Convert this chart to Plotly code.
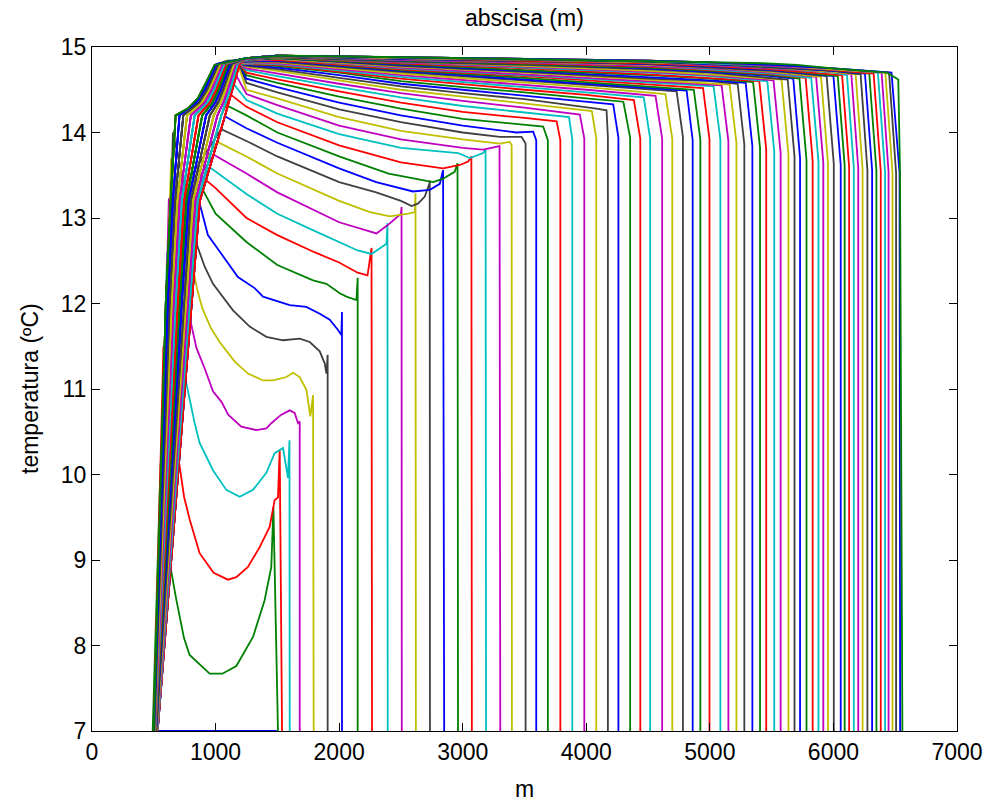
import plotly.graph_objects as go

# ---- temperature snapshots along the channel (x in m, T in degC) ----
# Rising limb near the inlet: every late snapshot climbs through this strip.
# Left envelope of the strip
env_x = [500, 597, 636, 677, 776, 857, 939, 993]
env_y = [7, 12, 13.2, 14.2, 14.28, 14.4, 14.63, 14.79]
# Remaining paths through the strip, all at the same temperature levels
lane_y = [7, 12, 13.2, 14.2, 14.35, 14.5, 14.8]
lane01_x = [502, 613, 654, 708, 845, 912, 1009]
lane02_x = [505, 629, 672, 739, 867, 931, 1024]
lane03_x = [507, 645, 691, 769, 889, 949, 1040]
lane04_x = [510, 661, 709, 800, 910, 968, 1055]
lane05_x = [512, 677, 727, 831, 932, 987, 1071]
lane06_x = [514, 694, 745, 862, 954, 1006, 1086]
lane07_x = [517, 709, 764, 892, 976, 1024, 1102]
lane08_x = [519, 726, 782, 923, 998, 1043, 1117]
lane09_x = [521, 742, 800, 954, 1020, 1062, 1133]
lane10_x = [524, 758, 818, 985, 1041, 1081, 1148]
lane11_x = [526, 774, 837, 1015, 1063, 1099, 1164]
lane12_x = [529, 790, 855, 1046, 1085, 1118, 1179]
lane13_x = [531, 806, 873, 1077, 1107, 1137, 1195]

# Early snapshots
s01_x = [531, 1495]
s01_y = [7, 7]
s02_x = [491, 555, 630, 683, 744, 790, 952, 1055, 1168, 1303, 1397, 1451, 1468, 1505]
s02_y = [7, 10.13, 8.96, 8.53, 8.09, 7.89, 7.67, 7.67, 7.76, 8.10, 8.53, 8.92, 9.62, 7]
s03_x = [500, 578, 710, 745, 791, 871, 984, 1100, 1168, 1262, 1357, 1438, 1478, 1505, 1519, 1538]
s03_y = [7, 11.50, 10.09, 9.74, 9.47, 9.08, 8.85, 8.77, 8.80, 8.92, 9.15, 9.39, 9.70, 9.73, 10.29, 7]
s04_x = [505, 608, 763, 831, 871, 979, 1087, 1195, 1303, 1411, 1478, 1519, 1546, 1586, 1598, 1600]
s04_y = [7, 12.60, 11.07, 10.60, 10.37, 10.05, 9.82, 9.74, 9.82, 10.02, 10.25, 10.29, 10.31, 9.96, 10.40, 7]
s05_x = [510, 622, 804, 845, 912, 980, 1048, 1102, 1208, 1330, 1411, 1451, 1532, 1600, 1640, 1667, 1681, 1681]
s05_y = [7, 13.23, 11.75, 11.48, 11.24, 10.97, 10.85, 10.70, 10.56, 10.52, 10.54, 10.60, 10.70, 10.75, 10.72, 10.60, 10.62, 7]
s06_x = [512, 640, 852, 894, 963, 1033, 1155, 1262, 1384, 1465, 1573, 1627, 1681, 1735, 1767, 1789, 1794]
s06_y = [7, 13.70, 12.16, 11.94, 11.71, 11.55, 11.32, 11.18, 11.10, 11.10, 11.14, 11.19, 11.14, 10.99, 10.68, 10.93, 7]
s07_x = [515, 655, 845, 912, 979, 1141, 1276, 1411, 1546, 1681, 1762, 1843, 1883, 1897, 1907, 1907]
s07_y = [7, 14.00, 12.70, 12.43, 12.23, 11.92, 11.73, 11.61, 11.57, 11.59, 11.55, 11.44, 11.30, 11.18, 11.40, 7]
s08_x = [531, 871, 938, 1060, 1181, 1316, 1384, 1600, 1735, 1843, 1924, 1991, 2018, 2023, 2023]
s08_y = [7, 13.17, 12.80, 12.55, 12.31, 12.18, 12.08, 11.98, 11.96, 11.88, 11.81, 11.69, 11.63, 11.90, 7]

# Later snapshots: part of a strip path, then the profile towards the front
s09_x = lane12_x[:3] + [900, 1000, 1250, 1500, 1789, 1897, 2005, 2059, 2140, 2150, 2150]
s09_y = lane_y[:3] + [13.32, 13.05, 12.72, 12.45, 12.27, 12.23, 12.12, 12.08, 12.04, 12.30, 7]
s10_x = lane10_x[:3] + [925, 1000, 1250, 1500, 1800, 2000, 2150, 2230, 2262, 2266]
s10_y = lane_y[:3] + [13.44, 13.35, 13.00, 12.80, 12.60, 12.48, 12.36, 12.33, 12.65, 7]
s11_x = lane08_x[:3] + [955, 1250, 1500, 1800, 2000, 2150, 2262, 2383, 2391, 2393]
s11_y = lane_y[:3] + [13.59, 13.28, 13.05, 12.85, 12.72, 12.62, 12.58, 12.70, 12.94, 7]
s12_x = lane06_x[:3] + [985, 1250, 1500, 2000, 2302, 2396, 2500, 2505, 2507]
s12_y = lane_y[:3] + [13.74, 13.52, 13.30, 12.95, 12.82, 12.92, 13.05, 13.13, 7]
s13_x = lane04_x[:3] + [1015, 1250, 1500, 2000, 2250, 2410, 2560, 2612, 2618, 2621]
s13_y = lane_y[:3] + [13.89, 13.72, 13.52, 13.20, 13.07, 13.02, 13.05, 13.07, 13.29, 7]
s14_x = lane02_x[:3] + [1045, 1250, 1500, 2000, 2300, 2500, 2587, 2640, 2693, 2730, 2733, 2735]
s14_y = lane_y[:3] + [14.04, 13.90, 13.72, 13.42, 13.30, 13.20, 13.14, 13.17, 13.25, 13.40, 13.44, 7]
s15_x = lane13_x[:3] + [1075, 1250, 1500, 2000, 2300, 2598, 2734, 2815, 2841, 2850]
s15_y = lane_y[:3] + [14.19, 14.05, 13.88, 13.58, 13.42, 13.31, 13.33, 13.40, 13.56, 7]
s16_x = lane13_x[:4] + [1100, 1250, 1500, 2000, 2400, 2760, 2841, 2935, 2958, 2962]
s16_y = lane_y[:4] + [14.31, 14.20, 14.00, 13.72, 13.52, 13.42, 13.46, 13.54, 13.64, 7]
s17_x = lane12_x[:4] + [1125, 1250, 1500, 2000, 2500, 2841, 2977, 3044, 3070, 3074]
s17_y = lane_y[:4] + [14.44, 14.30, 14.12, 13.85, 13.65, 13.58, 13.62, 13.66, 13.72, 7]
s18_x = lane11_x[:5] + [1150, 1250, 1500, 2000, 2500, 2963, 3057, 3165, 3185, 3189]
s18_y = lane_y[:5] + [14.56, 14.38, 14.22, 13.98, 13.82, 13.76, 13.70, 13.76, 13.80, 7]
s19_x = lane10_x[:6] + [1170, 1250, 1500, 2000, 2500, 3000, 3165, 3298, 3304]
s19_y = lane_y[:6] + [14.66, 14.45, 14.32, 14.08, 13.92, 13.82, 13.80, 13.84, 7]
s20_x = lane09_x[:6] + [1190, 1250, 1500, 2000, 2500, 3000, 3300, 3381, 3396, 3398]
s20_y = lane_y[:6] + [14.76, 14.50, 14.40, 14.18, 14.02, 13.92, 13.87, 13.89, 13.85, 7]
s21_x = lane08_x + [1195, 1250, 1500, 2000, 2500, 3000, 3300, 3476, 3509, 3509]
s21_y = lane_y + [14.79, 14.58, 14.47, 14.27, 14.12, 14.00, 13.95, 13.95, 13.87, 7]
s22_x = lane13_x + [1250, 1500, 2000, 2500, 3000, 3435, 3570, 3595, 3595]
s22_y = lane_y + [14.63, 14.53, 14.35, 14.20, 14.08, 14.00, 14.01, 13.91, 7]
s23_x = lane07_x + [1190, 1250, 1500, 2000, 2500, 3000, 3400, 3651, 3689, 3689]
s23_y = lane_y + [14.81, 14.67, 14.58, 14.42, 14.28, 14.16, 14.10, 14.07, 13.91, 7]
s24_x = env_x + [1185, 1250, 1500, 2000, 2500, 3000, 3500, 3760, 3790, 3790]
s24_y = env_y + [14.81, 14.70, 14.62, 14.48, 14.35, 14.24, 14.17, 14.13, 13.91, 7]
s25_x = lane06_x + [1180, 1250, 1500, 2000, 2500, 3000, 3500, 3860, 3887, 3887]
s25_y = lane_y + [14.82, 14.73, 14.66, 14.53, 14.41, 14.31, 14.23, 14.18, 13.92, 7]
s26_x = lane05_x + [1170, 1250, 1500, 2000, 2500, 3000, 3500, 3948, 3984, 3984]
s26_y = lane_y + [14.82, 14.75, 14.69, 14.57, 14.46, 14.37, 14.29, 14.21, 13.93, 7]
s27_x = lane04_x + [1160, 1250, 1500, 2000, 2500, 3000, 3500, 4045, 4081, 4081]
s27_y = lane_y + [14.82, 14.77, 14.72, 14.61, 14.50, 14.42, 14.34, 14.25, 13.93, 7]
s28_x = lane03_x + [1150, 1250, 1500, 2000, 2500, 3000, 3500, 4083, 4164, 4175, 4175]
s28_y = lane_y + [14.82, 14.78, 14.74, 14.64, 14.54, 14.46, 14.39, 14.28, 14.26, 13.94, 7]
s29_x = lane02_x + [1140, 1250, 1500, 2000, 2500, 3000, 3500, 4000, 4218, 4260, 4260]
s29_y = lane_y + [14.82, 14.79, 14.76, 14.67, 14.57, 14.50, 14.43, 14.36, 14.33, 13.94, 7]
s30_x = lane01_x + [1130, 1250, 1500, 2000, 2500, 3000, 3500, 4000, 4300, 4355, 4355]
s30_y = lane_y + [14.82, 14.80, 14.78, 14.70, 14.60, 14.53, 14.47, 14.40, 14.36, 13.94, 7]
s31_x = env_x + [1100, 1250, 1500, 2500, 3500, 4000, 4385, 4437, 4437]
s31_y = env_y + [14.84, 14.80, 14.79, 14.63, 14.50, 14.44, 14.38, 13.93, 7]
s32_x = lane12_x + [1250, 1500, 2500, 3500, 4000, 4465, 4517, 4517]
s32_y = lane_y + [14.81, 14.80, 14.65, 14.53, 14.47, 14.41, 13.93, 7]
s33_x = lane11_x + [1250, 1500, 2500, 3500, 4000, 4560, 4614, 4614]
s33_y = lane_y + [14.82, 14.81, 14.67, 14.56, 14.50, 14.43, 13.93, 7]
s34_x = lane10_x + [1250, 1500, 2500, 3500, 4000, 4640, 4696, 4696]
s34_y = lane_y + [14.82, 14.82, 14.69, 14.58, 14.53, 14.45, 13.93, 7]
s35_x = lane09_x + [1250, 1500, 2500, 3500, 4000, 4500, 4731, 4782, 4782]
s35_y = lane_y + [14.83, 14.83, 14.71, 14.61, 14.56, 14.51, 14.48, 13.95, 7]
s36_x = lane08_x + [1250, 1500, 2500, 3500, 4000, 4500, 4812, 4861, 4861]
s36_y = lane_y + [14.83, 14.84, 14.72, 14.62, 14.57, 14.52, 14.49, 13.91, 7]
s37_x = lane07_x + [1250, 1500, 2500, 3500, 4500, 4870, 4923, 4923]
s37_y = lane_y + [14.84, 14.85, 14.73, 14.64, 14.54, 14.50, 13.92, 7]
s38_x = lane06_x + [1250, 1500, 2500, 3500, 4500, 4945, 4997, 4997]
s38_y = lane_y + [14.84, 14.85, 14.74, 14.66, 14.56, 14.52, 13.92, 7]
s39_x = lane05_x + [1250, 1500, 2500, 3500, 4500, 5030, 5085, 5085]
s39_y = lane_y + [14.84, 14.86, 14.75, 14.67, 14.59, 14.54, 13.92, 7]
s40_x = lane04_x + [1250, 1500, 2500, 3500, 4500, 5095, 5150, 5150]
s40_y = lane_y + [14.84, 14.86, 14.76, 14.68, 14.60, 14.55, 13.90, 7]
s41_x = lane03_x + [1250, 1500, 2500, 3500, 4500, 5000, 5160, 5215, 5215]
s41_y = lane_y + [14.85, 14.86, 14.77, 14.70, 14.62, 14.58, 14.56, 13.88, 7]
s42_x = lane02_x + [1250, 1500, 2500, 3500, 4500, 5000, 5225, 5279, 5279]
s42_y = lane_y + [14.85, 14.87, 14.78, 14.71, 14.63, 14.60, 14.57, 13.86, 7]
s43_x = lane01_x + [1250, 1500, 2500, 3500, 4500, 5000, 5290, 5344, 5344]
s43_y = lane_y + [14.85, 14.87, 14.79, 14.72, 14.65, 14.61, 14.58, 13.84, 7]
s44_x = env_x + [1100, 1250, 1500, 2500, 3500, 4500, 5000, 5350, 5406, 5406]
s44_y = env_y + [14.84, 14.85, 14.87, 14.80, 14.73, 14.67, 14.63, 14.59, 13.82, 7]
s45_x = lane13_x + [1250, 1500, 2500, 3500, 4500, 5000, 5400, 5456, 5456]
s45_y = lane_y + [14.85, 14.88, 14.81, 14.75, 14.68, 14.64, 14.60, 13.80, 7]
s46_x = lane12_x + [1250, 1500, 2500, 3500, 4500, 5000, 5465, 5521, 5521]
s46_y = lane_y + [14.85, 14.88, 14.82, 14.76, 14.70, 14.66, 14.60, 13.78, 7]
s47_x = lane11_x + [1250, 1500, 2500, 3500, 4500, 5000, 5515, 5573, 5573]
s47_y = lane_y + [14.86, 14.88, 14.82, 14.77, 14.71, 14.67, 14.61, 13.76, 7]
s48_x = lane10_x + [1250, 1500, 2500, 3500, 4500, 5000, 5580, 5636, 5636]
s48_y = lane_y + [14.86, 14.88, 14.83, 14.78, 14.72, 14.68, 14.62, 13.74, 7]
s49_x = lane09_x + [1250, 1500, 2500, 3500, 4500, 5000, 5630, 5685, 5685]
s49_y = lane_y + [14.86, 14.88, 14.83, 14.79, 14.74, 14.70, 14.62, 13.72, 7]
s50_x = lane08_x + [1250, 1500, 2500, 3500, 4500, 5000, 5500, 5675, 5730, 5730]
s50_y = lane_y + [14.86, 14.89, 14.84, 14.80, 14.75, 14.71, 14.66, 14.63, 13.70, 7]
s51_x = lane07_x + [1250, 1500, 2500, 3500, 4500, 5000, 5500, 5725, 5782, 5782]
s51_y = lane_y + [14.86, 14.89, 14.84, 14.80, 14.76, 14.72, 14.67, 14.63, 13.68, 7]
s52_x = lane06_x + [1250, 1500, 2500, 3500, 4500, 5000, 5500, 5775, 5832, 5832]
s52_y = lane_y + [14.86, 14.89, 14.85, 14.81, 14.77, 14.73, 14.68, 14.64, 13.67, 7]
s53_x = lane05_x + [1250, 1500, 2500, 3500, 4500, 5000, 5500, 5820, 5879, 5879]
s53_y = lane_y + [14.86, 14.89, 14.85, 14.82, 14.78, 14.74, 14.69, 14.64, 13.66, 7]
s54_x = lane04_x + [1250, 1500, 2500, 3500, 4500, 5000, 5500, 5860, 5918, 5918]
s54_y = lane_y + [14.86, 14.89, 14.85, 14.82, 14.78, 14.75, 14.70, 14.65, 13.65, 7]
s55_x = lane03_x + [1250, 1500, 2500, 3500, 4500, 5000, 5500, 5900, 5956, 5956]
s55_y = lane_y + [14.87, 14.89, 14.86, 14.83, 14.79, 14.76, 14.71, 14.65, 13.64, 7]
s56_x = lane02_x + [1250, 1500, 2500, 3500, 4500, 5000, 5500, 5945, 6003, 6003]
s56_y = lane_y + [14.87, 14.89, 14.86, 14.83, 14.80, 14.76, 14.72, 14.66, 13.63, 7]
s57_x = lane01_x + [1250, 1500, 2500, 3500, 4500, 5000, 5500, 6000, 6059, 6059]
s57_y = lane_y + [14.87, 14.90, 14.86, 14.84, 14.80, 14.77, 14.73, 14.66, 13.62, 7]
s58_x = env_x + [1250, 1500, 2500, 3500, 4500, 5000, 5500, 6035, 6091, 6091]
s58_y = env_y + [14.87, 14.90, 14.87, 14.84, 14.81, 14.78, 14.74, 14.66, 13.61, 7]
s59_x = lane13_x + [1250, 1500, 2500, 3500, 4500, 5000, 5500, 6070, 6127, 6127]
s59_y = lane_y + [14.87, 14.90, 14.87, 14.84, 14.81, 14.78, 14.74, 14.67, 13.60, 7]
s60_x = lane12_x + [1250, 1500, 2500, 3500, 4500, 5000, 5500, 6000, 6110, 6165, 6165]
s60_y = lane_y + [14.87, 14.90, 14.87, 14.85, 14.82, 14.79, 14.75, 14.70, 14.67, 13.59, 7]
s61_x = lane11_x + [1250, 1500, 2500, 3500, 4500, 5000, 5500, 6000, 6145, 6201, 6201]
s61_y = lane_y + [14.87, 14.90, 14.87, 14.85, 14.82, 14.79, 14.75, 14.71, 14.68, 13.58, 7]
s62_x = lane10_x + [1250, 1500, 2500, 3500, 4500, 5000, 5500, 6000, 6180, 6236, 6236]
s62_y = lane_y + [14.87, 14.90, 14.87, 14.85, 14.82, 14.80, 14.76, 14.71, 14.68, 13.57, 7]
s63_x = lane09_x + [1250, 1500, 2500, 3500, 4500, 5000, 5500, 6000, 6220, 6275, 6275]
s63_y = lane_y + [14.87, 14.90, 14.88, 14.85, 14.83, 14.80, 14.76, 14.72, 14.68, 13.56, 7]
s64_x = lane08_x + [1250, 1500, 2500, 3500, 4500, 5000, 5500, 6000, 6255, 6313, 6313]
s64_y = lane_y + [14.87, 14.90, 14.88, 14.86, 14.83, 14.80, 14.77, 14.72, 14.69, 13.56, 7]
s65_x = lane07_x + [1250, 1500, 2500, 3500, 4500, 5000, 5500, 6000, 6290, 6348, 6348]
s65_y = lane_y + [14.87, 14.90, 14.88, 14.86, 14.83, 14.81, 14.77, 14.73, 14.69, 13.55, 7]
s66_x = lane06_x + [1250, 1500, 2500, 3500, 4500, 5000, 5500, 6000, 6325, 6383, 6383]
s66_y = lane_y + [14.87, 14.90, 14.88, 14.86, 14.84, 14.81, 14.78, 14.73, 14.69, 13.55, 7]
s67_x = lane05_x + [1250, 1500, 2500, 3500, 4500, 5000, 5500, 6000, 6360, 6418, 6418]
s67_y = lane_y + [14.87, 14.90, 14.88, 14.86, 14.84, 14.81, 14.78, 14.74, 14.70, 13.54, 7]
s68_x = lane04_x + [1250, 1500, 2500, 3500, 4500, 5000, 5500, 6000, 6390, 6446, 6446]
s68_y = lane_y + [14.87, 14.90, 14.88, 14.86, 14.84, 14.82, 14.78, 14.74, 14.70, 13.54, 7]
s69_x = lane03_x + [1250, 1500, 2500, 3500, 4500, 5000, 5500, 6000, 6420, 6478, 6478]
s69_y = lane_y + [14.87, 14.90, 14.88, 14.86, 14.84, 14.82, 14.79, 14.74, 14.70, 13.53, 7]
s70_x = lane02_x + [1250, 1500, 2500, 3500, 4500, 5000, 5500, 6000, 6450, 6507, 6507]
s70_y = lane_y + [14.87, 14.90, 14.88, 14.86, 14.84, 14.82, 14.79, 14.75, 14.70, 13.53, 7]
s71_x = lane01_x + [1250, 1500, 2500, 3500, 4500, 5000, 5500, 6000, 6470, 6535, 6540]
s71_y = lane_y + [14.87, 14.90, 14.88, 14.86, 14.84, 14.82, 14.79, 14.75, 14.70, 13.53, 7]
s72_x = env_x + [1250, 1543, 2500, 3500, 4759, 5431, 5705, 5995, 6192, 6434, 6525, 6539, 6558]
s72_y = env_y + [14.87, 14.90, 14.88, 14.86, 14.83, 14.81, 14.79, 14.75, 14.73, 14.70, 14.62, 13.53, 7]

snapshots = [
    (s01_x, s01_y), (s02_x, s02_y), (s03_x, s03_y), (s04_x, s04_y), (s05_x, s05_y),
    (s06_x, s06_y), (s07_x, s07_y), (s08_x, s08_y), (s09_x, s09_y), (s10_x, s10_y),
    (s11_x, s11_y), (s12_x, s12_y), (s13_x, s13_y), (s14_x, s14_y), (s15_x, s15_y),
    (s16_x, s16_y), (s17_x, s17_y), (s18_x, s18_y), (s19_x, s19_y), (s20_x, s20_y),
    (s21_x, s21_y), (s22_x, s22_y), (s23_x, s23_y), (s24_x, s24_y), (s25_x, s25_y),
    (s26_x, s26_y), (s27_x, s27_y), (s28_x, s28_y), (s29_x, s29_y), (s30_x, s30_y),
    (s31_x, s31_y), (s32_x, s32_y), (s33_x, s33_y), (s34_x, s34_y), (s35_x, s35_y),
    (s36_x, s36_y), (s37_x, s37_y), (s38_x, s38_y), (s39_x, s39_y), (s40_x, s40_y),
    (s41_x, s41_y), (s42_x, s42_y), (s43_x, s43_y), (s44_x, s44_y), (s45_x, s45_y),
    (s46_x, s46_y), (s47_x, s47_y), (s48_x, s48_y), (s49_x, s49_y), (s50_x, s50_y),
    (s51_x, s51_y), (s52_x, s52_y), (s53_x, s53_y), (s54_x, s54_y), (s55_x, s55_y),
    (s56_x, s56_y), (s57_x, s57_y), (s58_x, s58_y), (s59_x, s59_y), (s60_x, s60_y),
    (s61_x, s61_y), (s62_x, s62_y), (s63_x, s63_y), (s64_x, s64_y), (s65_x, s65_y),
    (s66_x, s66_y), (s67_x, s67_y), (s68_x, s68_y), (s69_x, s69_y), (s70_x, s70_y),
    (s71_x, s71_y), (s72_x, s72_y),
]

# classic b, g, r, c, m, y, k line colour order
line_colors = ["#0000FF", "#008000", "#FF0000", "#00BFBF", "#BF00BF", "#BFBF00", "#404040"]

x_ticks = [0, 1000, 2000, 3000, 4000, 5000, 6000, 7000]
y_ticks = [7, 8, 9, 10, 11, 12, 13, 14, 15]

FONT = "Liberation Sans, Arial, sans-serif"

fig = go.Figure()
for i, (xs, ys) in enumerate(snapshots):
    fig.add_trace(go.Scatter(
        x=xs, y=ys, mode="lines",
        line=dict(color=line_colors[i % len(line_colors)], width=1.8),
        hoverinfo="skip", showlegend=False,
    ))

axis_common = dict(
    showgrid=False, zeroline=False, showline=True, linecolor="black", linewidth=1,
    mirror="ticks", ticks="inside", ticklen=8, tickwidth=1, tickcolor="black",
    tickfont=dict(family=FONT, size=23, color="black"), automargin=False,
)

fig.update_layout(
    width=990, height=805,
    margin=dict(l=92, r=33, t=47, b=74, autoexpand=False),
    paper_bgcolor="white", plot_bgcolor="white",
    xaxis=dict(range=[0, 7000], tickvals=x_ticks, **axis_common),
    yaxis=dict(range=[7, 15], tickvals=y_ticks, **axis_common),
    annotations=[
        dict(text="abscisa (m)", xref="paper", yref="paper", x=0.5, y=1.0, yshift=29,
             showarrow=False, xanchor="center", yanchor="middle",
             font=dict(family=FONT, size=23, color="black")),
        dict(text="m", xref="paper", yref="paper", x=0.5, y=0.0, yshift=-58,
             showarrow=False, xanchor="center", yanchor="middle",
             font=dict(family=FONT, size=23, color="black")),
        dict(text="temperatura (ºC)", xref="paper", yref="paper", x=0.0, xshift=-62, y=0.5,
             showarrow=False, xanchor="center", yanchor="middle", textangle=-90,
             font=dict(family=FONT, size=23, color="black")),
    ],
)

fig.write_html("out.html")
